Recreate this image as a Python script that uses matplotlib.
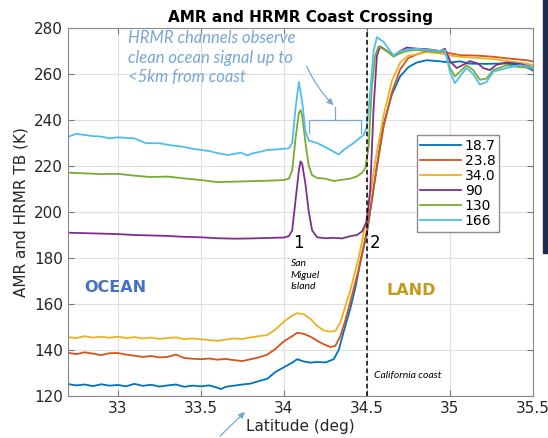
import matplotlib.pyplot as plt
from matplotlib.patches import Rectangle

# channel frequencies (GHz) and matlab-ish colours
labels = ["18.7", "23.8", "34.0", "90", "130", "166"]
colors = ["#0072BD", "#D95319", "#EDB120", "#7E2F8E", "#77AC30", "#4DBEEE"]

lat_187 = [32.7, 32.75, 32.8, 32.85, 32.9, 32.95, 33.0, 33.05, 33.1, 33.15, 33.2, 33.25, 33.3, 33.35,
           33.4, 33.45, 33.5, 33.55, 33.6, 33.62, 33.65, 33.7, 33.75, 33.8, 33.85, 33.9, 33.95, 34.0,
           34.05, 34.08, 34.12, 34.16, 34.2, 34.25, 34.3, 34.33, 34.36, 34.4, 34.43, 34.46, 34.5, 34.53,
           34.56, 34.6, 34.65, 34.7, 34.75, 34.8, 34.86, 34.94, 35.0, 35.06, 35.12, 35.22, 35.32, 35.42,
           35.46, 35.5]
tb_187 = [125.2, 124.6, 125.0, 124.3, 125.1, 124.5, 124.8, 124.2, 125.3, 124.4, 124.9, 124.1, 124.6, 125.0,
          124.0, 124.5, 124.2, 124.6, 123.6, 123.0, 124.0, 124.5, 125.0, 125.4, 126.5, 127.5, 130.5, 132.5,
          134.5, 136.0, 135.0, 134.5, 134.8, 134.6, 136.0, 140.0, 148.0, 158.0, 167.0, 178.0, 191.0, 205.0,
          220.0, 238.0, 251.0, 259.0, 263.0, 265.0, 266.0, 265.5, 265.0, 265.5, 264.5, 264.4, 264.6, 264.0,
          263.0, 261.5]

lat_low = [32.7, 32.75, 32.8, 32.85, 32.9, 32.95, 33.0, 33.05, 33.1, 33.15, 33.2, 33.25, 33.3, 33.35,
           33.4, 33.45, 33.5, 33.55, 33.6, 33.65, 33.7, 33.75, 33.8, 33.85, 33.9, 33.95, 34.0, 34.05,
           34.08, 34.12, 34.16, 34.2, 34.24, 34.28, 34.31, 34.34, 34.37, 34.4, 34.45, 34.5, 34.55, 34.6,
           34.65, 34.7, 34.75, 34.8, 34.86, 34.94, 35.0, 35.06, 35.16, 35.26, 35.36, 35.46, 35.5]
tb_238 = [138.8, 138.2, 139.0, 138.4, 137.8, 138.6, 138.7, 138.0, 137.5, 137.0, 137.4, 136.8, 137.0, 138.0,
          136.5, 136.2, 136.0, 136.3, 135.8, 136.1, 135.6, 135.2, 136.0, 136.8, 138.0, 140.5, 143.8, 146.0,
          147.5, 147.0, 145.8, 144.0, 142.5, 141.3, 141.8, 146.0, 153.0, 161.0, 175.0, 192.0, 215.0, 237.0,
          252.0, 262.0, 267.0, 268.5, 270.0, 270.0, 269.0, 268.2, 268.0, 267.5, 266.7, 266.0, 265.5]
tb_340 = [145.6, 145.2, 146.0, 145.4, 145.8, 145.3, 145.8, 145.2, 145.6, 145.0, 145.4, 144.8, 145.2, 145.5,
          144.7, 145.0, 144.7, 144.3, 144.0, 144.5, 145.0, 144.8, 145.5, 146.0, 146.5, 149.0, 152.3, 155.0,
          156.0, 155.5, 153.5, 150.5, 148.5, 148.0, 148.3, 152.0, 159.0, 166.0, 180.0, 198.0, 222.0, 242.0,
          257.0, 265.0, 268.0, 268.5, 269.5, 269.0, 268.0, 267.5, 267.0, 266.5, 265.5, 264.5, 264.0]

lat_hi = [32.7, 32.8, 32.9, 33.0, 33.1, 33.2, 33.3, 33.4, 33.5, 33.6, 33.7, 33.8, 33.9, 34.0, 34.03,
          34.05, 34.07, 34.09, 34.1, 34.11, 34.13, 34.15, 34.17, 34.2, 34.25, 34.3, 34.35, 34.4, 34.44,
          34.47, 34.5, 34.52, 34.54, 34.56, 34.58, 34.62, 34.66, 34.7, 34.74, 34.8, 34.86, 34.94, 34.97,
          35.0, 35.04, 35.08, 35.12, 35.17, 35.2, 35.24, 35.28, 35.34, 35.42, 35.5]
tb_90 = [191.0, 190.8, 190.6, 190.4, 190.0, 189.8, 189.6, 189.2, 189.0, 188.6, 188.4, 188.5, 188.7, 188.9,
         189.5, 192.0, 205.0, 218.0, 222.0, 221.0, 212.0, 200.0, 192.0, 189.0, 188.6, 188.8, 188.5, 189.5,
         190.0, 191.5, 196.0, 210.0, 245.0, 268.0, 272.0, 270.0, 268.0, 270.0, 271.5, 271.0, 270.8, 270.0,
         271.0, 265.6, 262.6, 264.0, 265.6, 264.5, 262.6, 261.7, 264.0, 265.0, 264.4, 263.0]

lat_130 = [32.7, 32.8, 32.9, 33.0, 33.1, 33.2, 33.3, 33.4, 33.5, 33.6, 33.7, 33.8, 33.9, 34.0, 34.03,
           34.05, 34.07, 34.09, 34.1, 34.11, 34.13, 34.15, 34.17, 34.2, 34.25, 34.3, 34.35, 34.4, 34.44,
           34.47, 34.49, 34.51, 34.53, 34.55, 34.57, 34.62, 34.66, 34.7, 34.74, 34.8, 34.86, 34.94, 34.97,
           35.0, 35.03, 35.06, 35.1, 35.14, 35.18, 35.22, 35.26, 35.34, 35.42, 35.5]
tb_130 = [217.1, 216.8, 216.5, 216.6, 215.8, 215.2, 215.4, 214.6, 213.9, 213.0, 213.2, 213.4, 213.6, 213.9,
          214.5, 218.0, 232.0, 243.0, 244.3, 242.0, 230.0, 220.0, 216.0, 214.8, 214.5, 213.5, 214.0, 214.5,
          215.5, 217.0, 219.0, 228.0, 255.0, 268.0, 272.0, 270.0, 267.5, 269.0, 270.0, 270.5, 270.0, 269.5,
          270.0, 262.6, 259.0, 261.0, 263.8, 261.7, 257.5, 258.0, 261.7, 263.8, 263.0, 262.6]

lat_166 = [32.7, 32.75, 32.8, 32.85, 32.9, 32.95, 33.0, 33.05, 33.1, 33.17, 33.25, 33.32, 33.39, 33.45,
           33.5, 33.55, 33.6, 33.66, 33.7, 33.74, 33.78, 33.81, 33.86, 33.9, 33.96, 34.03, 34.05, 34.07,
           34.09, 34.11, 34.13, 34.15, 34.2, 34.26, 34.3, 34.33, 34.36, 34.42, 34.48, 34.5, 34.52, 34.54,
           34.56, 34.6, 34.66, 34.7, 34.74, 34.8, 34.86, 34.94, 34.97, 35.0, 35.03, 35.06, 35.1, 35.14,
           35.18, 35.22, 35.26, 35.34, 35.42, 35.5]
tb_166 = [232.7, 234.0, 233.5, 233.0, 232.8, 232.0, 232.5, 232.2, 232.0, 229.9, 229.9, 229.0, 228.4, 227.5,
          227.0, 226.5, 225.6, 224.8, 225.2, 225.8, 224.6, 225.5, 226.2, 227.0, 227.2, 227.7, 230.0, 245.0,
          256.5, 248.0, 235.0, 231.0, 230.0, 227.8, 226.2, 225.0, 227.0, 230.0, 233.5, 237.0, 252.0, 270.0,
          276.0, 274.0, 268.0, 270.0, 270.5, 271.0, 270.5, 270.0, 270.5, 260.9, 256.0, 259.0, 262.6, 260.0,
          255.4, 256.5, 261.0, 262.6, 263.8, 263.0]

series = [(lat_187, tb_187), (lat_low, tb_238), (lat_low, tb_340),
          (lat_hi, tb_90), (lat_130, tb_130), (lat_166, tb_166)]

xticks = [33, 33.5, 34, 34.5, 35, 35.5]
xticklabels = ["33", "33.5", "34", "34.5", "35", "35.5"]
yticks = [120, 140, 160, 180, 200, 220, 240, 260, 280]
coast_lat = 34.5

note_blue = "#78A6D8"

#%%
fig = plt.figure(figsize=(5.48, 4.38), dpi=100)
ax = fig.add_axes([68 / 548, 42 / 438, 465 / 548, 368 / 438])

for (x, y), lab, c in zip(series, labels, colors):
    ax.plot(x, y, color=c, lw=1.3, label=lab)

ax.axvline(coast_lat, color="black", ls=(0, (3, 2)), lw=1.1)

ax.set_xlim(32.7, 35.5)
ax.set_ylim(120, 280)
ax.set_xticks(xticks)
ax.set_xticklabels(xticklabels)
ax.set_yticks(yticks)
ax.grid(True, color="#dedede", lw=0.8)
ax.tick_params(direction="in", length=4, top=True, right=True, labelsize=11,
               color="#777777", labelcolor="#262626")
for s in ax.spines.values():
    s.set_color("#8a8a8a")

ax.set_title("AMR and HRMR Coast Crossing", fontsize=11, fontweight="bold", pad=4)
ax.set_xlabel("Latitude (deg)", fontsize=11, color="#262626", labelpad=2)
ax.set_ylabel("AMR and HRMR TB (K)", fontsize=11, color="#262626", labelpad=4)

leg = ax.legend(loc="upper left", bbox_to_anchor=(0.75, 0.709), borderaxespad=0,
                fontsize=10, handlelength=2.9, handletextpad=0.3, labelspacing=0.08,
                borderpad=0.25, fancybox=False, framealpha=1, edgecolor="#8c8c8c")
leg.get_frame().set_linewidth(1.0)

# annotations
ax.text(33.06, 279.3, "HRMR channels observe\nclean ocean signal up to\n<5km from coast",
        family="Lato", style="italic", fontsize=12, color=note_blue, va="top",
        linespacing=1.3)
ax.annotate("", xy=(34.31, 245.6), xytext=(34.13, 264.5),
            arrowprops=dict(arrowstyle="-|>", color=note_blue, lw=0.9,
                            connectionstyle="arc3,rad=0.1", mutation_scale=9))
ax.plot([34.15, 34.15, 34.465, 34.465], [234.3, 240, 240, 234.3], color=note_blue, lw=0.9)
ax.plot([34.31, 34.31], [240, 245.6], color=note_blue, lw=0.9)

ax.text(34.085, 186.5, "1", fontsize=12, ha="center", va="center")
ax.text(34.55, 186.5, "2", fontsize=12, ha="center", va="center")
ax.text(34.04, 179.5, "San\nMiguel\nIsland", family="Lato", style="italic", fontsize=7.5,
        va="top", linespacing=1.35)
ax.text(32.8, 167, "OCEAN", fontsize=11.5, fontweight="bold", color="#4472C4", va="center")
ax.text(34.615, 165.7, "LAND", fontsize=11.5, fontweight="bold", color="#C49A16", va="center")
ax.text(34.54, 129, "California coast", family="Lato", style="italic", fontsize=7.5,
        va="center")

fig.add_artist(Rectangle((543 / 548, 1 - 253 / 438), 5 / 548, 253 / 438,
                         transform=fig.transFigure, color="#1c2b4f", zorder=10))
ax.annotate("", xy=(247 / 548, 1 - 410 / 438), xytext=(218 / 548, 0),
            xycoords="figure fraction", textcoords="figure fraction",
            arrowprops=dict(arrowstyle="-|>", color=note_blue, lw=0.9, mutation_scale=9),
            annotation_clip=False)

fig.savefig("out.png", dpi=100)
